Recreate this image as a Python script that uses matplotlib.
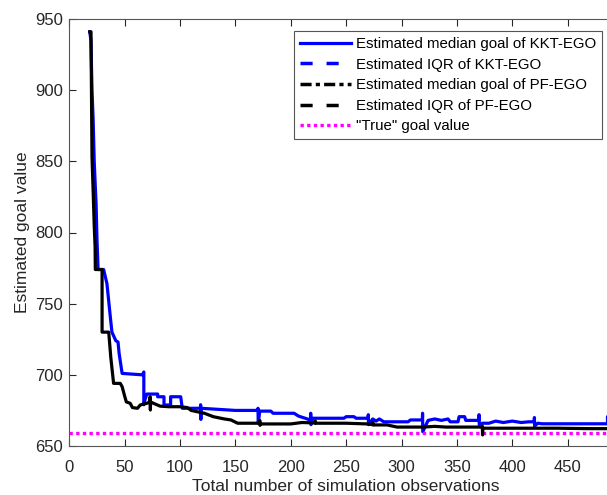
import numpy as np
import matplotlib.pyplot as plt

plt.rcParams['font.family'] = ['Liberation Sans', 'DejaVu Sans']

# KKT-EGO median goal (simulation observations, goal value)
kkt_pts = [(18.5, 941), (19.5, 935), (20.5, 900), (21.5, 880), (22.5, 850), (23.5, 832),
           (24.2, 820), (25.0, 795), (26.0, 774), (31.0, 774), (34.0, 764), (37.0, 741),
           (38.5, 730), (42.0, 724), (44.0, 723), (45.0, 715), (47.7, 701), (66.0, 700),
           (67.3, 702), (67.3, 679), (68.5, 683), (70.0, 686.5), (79.8, 686.5), (79.8, 684.6),
           (85.5, 684.6), (85.5, 678.8), (91.5, 678.8), (91.5, 684.6), (100.6, 684.6),
           (102.0, 676.5), (118.4, 676.5), (118.6, 679), (118.8, 668.7), (119.0, 676.5),
           (150.0, 675), (170.2, 675), (170.4, 676.5), (170.6, 666), (172.0, 674.5),
           (182.0, 674.5), (184.0, 673), (200.0, 673), (203.0, 673), (207.0, 671),
           (211.0, 670), (215.0, 669), (217.8, 668), (218.0, 673), (218.2, 665),
           (220.0, 669.5), (248.0, 669.5), (250.0, 670.6), (257.0, 670.6), (259.0, 669.5),
           (269.8, 669.5), (270.0, 672), (270.2, 665), (274.0, 669), (277.0, 667.5),
           (280.0, 669), (284.0, 667), (288.0, 667), (306.0, 667), (308.0, 668.3),
           (318.8, 668.3), (319.0, 673), (319.2, 660), (324.0, 668), (330.0, 669),
           (336.0, 668), (342.0, 669), (344.0, 667), (351.0, 667), (352.0, 670.6),
           (357.0, 670.6), (358.0, 668), (369.8, 668), (370.0, 672), (370.2, 665),
           (373.0, 666), (379.0, 666), (385.0, 667.5), (392.0, 666.5), (400.0, 667.5),
           (408.0, 666.5), (415.0, 667), (419.8, 667), (420.0, 670), (420.2, 664),
           (423.0, 666), (427.0, 665.6), (486.0, 665.6), (486.0, 670.6), (500.0, 670.6)]

# PF-EGO median goal
pf_pts = [(18.5, 941), (19.6, 941), (20.0, 900), (20.5, 853), (21.5, 830), (22.5, 805),
          (23.3, 790), (23.5, 774), (29.6, 774), (29.6, 730), (35.6, 730), (37.5, 712),
          (40.0, 694), (46.0, 694), (47.7, 691.7), (50.0, 685), (51.5, 681), (55.0, 680),
          (57.0, 677), (61.6, 676.5), (64.0, 678.8), (70.0, 680), (72.8, 681), (73.0, 684.6),
          (73.2, 675.3), (73.4, 681), (76.0, 680), (82.0, 678), (90.0, 677.6), (100.0, 677.6),
          (106.6, 677), (110.0, 675), (116.0, 674), (122.0, 673), (130.0, 670.6),
          (140.0, 669), (146.0, 668.3), (152.0, 666), (171.8, 666), (172.0, 668),
          (172.2, 664.5), (172.4, 665.5), (200.0, 665.5), (210.0, 666.5), (222.0, 666.2),
          (222.2, 667.5), (222.4, 666), (250.0, 666), (269.0, 665.5), (274.0, 665),
          (274.2, 666.5), (274.4, 664.8), (287.0, 664.8), (296.0, 663.3), (320.0, 663.3),
          (330.0, 663.8), (340.0, 663.3), (372.8, 663.3), (373.0, 664), (373.2, 657.8),
          (373.4, 662.5), (440.0, 662.5), (470.0, 662.2), (500.0, 662.2)]

true_goal = 659.3

kkt = np.array(kkt_pts)
pf = np.array(pf_pts)

fig = plt.figure(figsize=(6.07, 4.95), dpi=100)
ax = fig.add_axes([69.3/607, 49/495, 553.7/607, 427/495])

ax.plot(kkt[:, 0], kkt[:, 1], '-', color='#0000ff', lw=2.3, label='Estimated median goal of KKT-EGO')
ax.plot([], [], color='#0000ff', lw=2.5, linestyle=(0, (3.5, 4.0)), label='Estimated IQR of KKT-EGO')
ax.plot(pf[:, 0], pf[:, 1], '-', color='black', lw=2.3, zorder=2.5)
ax.plot([], [], color='black', lw=2.5, linestyle=(0, (3.2, 1.2, 1.2, 1.2)), label='Estimated median goal of PF-EGO')
ax.plot([], [], color='black', lw=2.5, linestyle=(0, (3.5, 4.0)), label='Estimated IQR of PF-EGO')
ax.axhline(true_goal, color='#ff00ff', lw=2.4, linestyle=(0, (1, 1)), label='"True" goal value')

ax.set_xlim(0, 500)
ax.set_ylim(650, 950)
ax.set_xticks(np.arange(0, 451, 50))
ax.set_yticks(np.arange(650, 951, 50))
ax.tick_params(direction='in', top=True, right=True, length=5, width=0.8,
               labelsize=12, colors='#262626')
ax.tick_params(axis='x', pad=10)
ax.tick_params(axis='y', pad=4.5)
for s in ax.spines.values():
    s.set_color('#555555')
    s.set_linewidth(0.8)

ax.set_xlabel('Total number of simulation observations', fontsize=12.5, color='#262626', labelpad=3)
ax.set_ylabel('Estimated goal value', fontsize=12.5, color='#262626', labelpad=4)

leg = ax.legend(loc='upper left', bbox_to_anchor=(294/607, 1 - 31/495),
                bbox_transform=fig.transFigure, borderaxespad=0, fontsize=10.8,
                fancybox=False, edgecolor='#555555', framealpha=1,
                handlelength=3.4, handletextpad=0.3, labelspacing=0.44, borderpad=0.4)
leg.get_frame().set_linewidth(0.8)

fig.savefig('out.png', dpi=100)
